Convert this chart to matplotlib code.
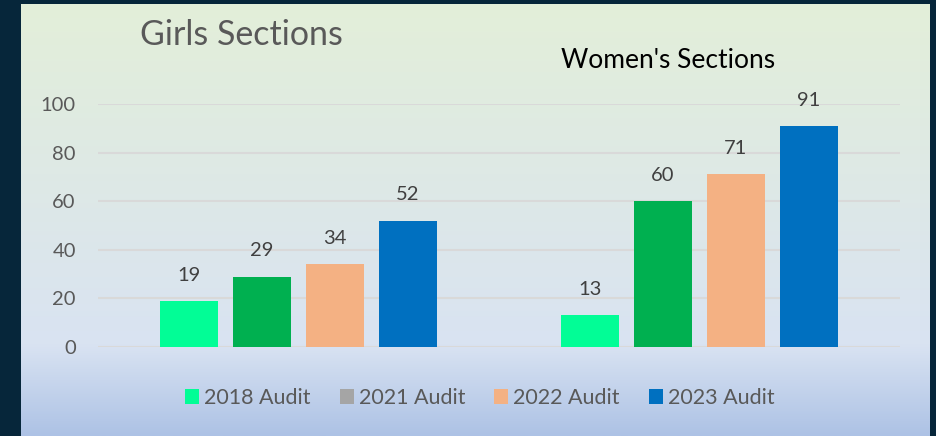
import numpy as np
import matplotlib
matplotlib.use("Agg")
import matplotlib.pyplot as plt
from matplotlib.patches import Patch
from matplotlib.colors import LinearSegmentedColormap

groups = ["Girls Sections", "Women's Sections"]
series = ["2018 Audit", "2021 Audit", "2022 Audit", "2023 Audit"]
values = {
    "2018 Audit": [19, 13],
    "2021 Audit": [29, 60],
    "2022 Audit": [34, 71],
    "2023 Audit": [52, 91],
}
bar_colors = ["#02FD96", "#00B050", "#F4B183", "#0070C0"]
legend_colors = ["#02FD96", "#A5A5A5", "#F4B183", "#0070C0"]
yticks = [0, 20, 40, 60, 80, 100]

FONT = ["Lato", "DejaVu Sans"]
plt.rcParams["font.family"] = FONT

W, H = 936, 436
fig = plt.figure(figsize=(W / 100, H / 100), dpi=100)
fig.patch.set_facecolor("#06263A")

# background panel with gradient
bg = fig.add_axes([21 / W, 0, (930 - 21) / W, (H - 4) / H])
bg.set_axis_off()
cmap = LinearSegmentedColormap.from_list(
    "bg",
    [(0.0, "#E3EFD9"), (0.79, "#D9E3F2"), (1.0, "#ADC2E5")],
)
grad = np.linspace(0, 1, 256).reshape(-1, 1)
bg.imshow(grad, aspect="auto", cmap=cmap, extent=[0, 1, 1, 0])
bg.set_xlim(0, 1)
bg.set_ylim(1, 0)

ax = fig.add_axes([98 / W, (H - 347) / H, 802 / W, 243 / H])
ax.set_facecolor("none")
ax.set_xlim(-0.5, 1.5)
ax.set_ylim(0, 100)
for s in ax.spines.values():
    s.set_visible(False)
ax.set_yticks(yticks)
ax.set_yticklabels([str(v) for v in yticks], fontsize=14.5, color="#595959")
ax.tick_params(axis="y", length=0, pad=16)
ax.set_xticks([])
ax.yaxis.grid(True, color="#D9D9D9", linewidth=1.5)
ax.set_axisbelow(True)

x = np.arange(len(groups))
bw = 58 / 401
step = 73 / 401
for i, (name, col) in enumerate(zip(series, bar_colors)):
    xs = x + (i - 1.5) * step
    ax.bar(xs, values[name], width=bw, color=col, zorder=3)
    for xi, v in zip(xs, values[name]):
        ax.annotate(str(v), (xi, v), xytext=(0, 18.5), textcoords="offset points",
                    ha="center", va="center", fontsize=14.5, color="#404040")

fig.text(241 / W, 1 - 35 / H, groups[0], ha="center", va="center",
         fontsize=24.5, color="#595959")
fig.text(668 / W, 1 - 60 / H, groups[1], ha="center", va="center",
         fontsize=19, color="#000000")

handles = [Patch(facecolor=c, edgecolor="none") for c in legend_colors]
fig.legend(handles, series, loc="center", bbox_to_anchor=(480 / W, 1 - 398 / H),
           ncol=4, frameon=False, fontsize=15.5, labelcolor="#595959",
           handlelength=0.65, handleheight=0.65, handletextpad=0.23,
           columnspacing=1.35)

fig.savefig("out.png", dpi=100, facecolor=fig.get_facecolor())
